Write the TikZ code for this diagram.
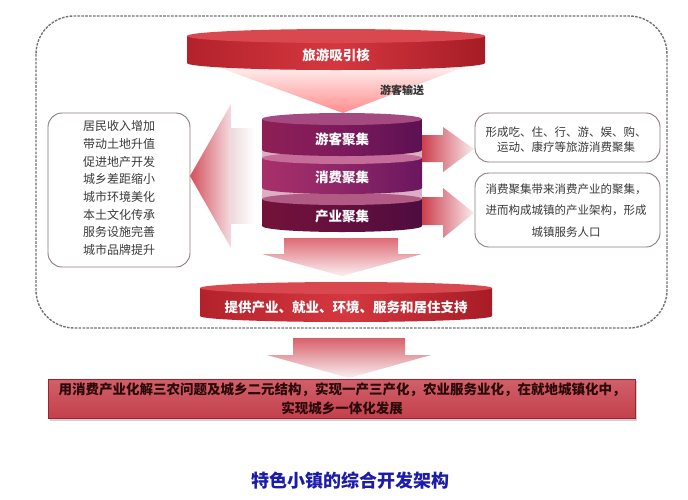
\documentclass[tikz,border=0pt]{standalone}
\usepackage{fontspec}
\setmainfont{Noto Sans CJK SC}
\definecolor{boxline}{HTML}{8C7A7C}
\definecolor{txtgray}{HTML}{3A3A3A}
\definecolor{capblue}{HTML}{1C1CA8}
\definecolor{stackbg}{HTML}{DCB0C4}
\definecolor{pThreeL}{HTML}{731238}
\definecolor{pThreeM}{HTML}{64103E}
\definecolor{pThreeR}{HTML}{4E0C3E}
\definecolor{pThreeT}{HTML}{B05A84}
\definecolor{pTwoL}{HTML}{A8306A}
\definecolor{pTwoM}{HTML}{8E2668}
\definecolor{pTwoR}{HTML}{6A165E}
\definecolor{pTwoT}{HTML}{C56C98}
\definecolor{pOneL}{HTML}{8F1F55}
\definecolor{pOneM}{HTML}{7C1A5C}
\definecolor{pOneR}{HTML}{5C1052}
\definecolor{pOneT}{HTML}{A44A80}
\definecolor{rL}{HTML}{B3222B}
\definecolor{rM}{HTML}{D5373F}
\definecolor{rR}{HTML}{A61C26}
\definecolor{rT}{HTML}{D9474F}
\definecolor{lshaft}{HTML}{EBD8DC}
\definecolor{ltip}{HTML}{D4505C}
\definecolor{lback}{HTML}{F4DCE0}
\definecolor{arrred}{HTML}{CC3F4C}
\definecolor{arrpale}{HTML}{FAECEE}
\definecolor{darr}{HTML}{DE6A74}
\definecolor{darrpale}{HTML}{FBF0F2}
\definecolor{darrb}{HTML}{D8606A}
\definecolor{darrbpale}{HTML}{F8F0F1}
\definecolor{barT}{HTML}{D0606A}
\definecolor{barB}{HTML}{C4404C}
\definecolor{barline}{HTML}{A02030}
\definecolor{bartext}{HTML}{2A0A0A}
\newcommand{\cyl}[9]{%
 \shade[left color=#6, right color=#8, middle color=#7] (#1-#2,#4) -- (#1-#2,#5) .. controls (#1-#2,#5+0.5523*#3) and (#1-0.5523*#2,#5+#3) .. (#1,#5+#3) .. controls (#1+0.5523*#2,#5+#3) and (#1+#2,#5+0.5523*#3) .. (#1+#2,#5) -- (#1+#2,#4) -- cycle;
 \fill[#9] (#1,#4) ellipse [x radius=#2, y radius=#3];
}
\begin{document}
\begin{tikzpicture}[x=1pt,y=-1pt,
  outerbox/.style={draw=black!55, line width=1.4pt, dash pattern=on 2.6pt off 1.3pt, rounded corners=38pt},
  infobox/.style={draw=boxline, line width=0.9pt, rounded corners=14pt},
  cyltext/.style={text=white, font=\bfseries\fontsize{13.5}{16}\selectfont},
  infotext/.style={text=txtgray, align=center},
]
\useasboundingbox (0,0) rectangle (688,499);
\fill[white] (0,0) rectangle (688,499);

% outer dashed frame
\draw[outerbox] (36,16) rectangle (667,328);

% funnel under top cylinder
\shade[top color=red!4, bottom color=red!45!white] (210,64) -- (472,64) -- (343,113) -- cycle;

% top cylinder
\cyl{336}{149}{7}{36}{63}{rL}{rM}{rR}{rT}
\node[cyltext] (core) at (336,55) {旅游吸引核};
\node[font=\bfseries\fontsize{11}{13}\selectfont, text=black!80] (flow) at (402,90) {游客输送};

% purple stack
\fill[stackbg] (262,119) rectangle (422,226);
\cyl{342}{80}{6}{199}{226}{pThreeL}{pThreeM}{pThreeR}{pThreeT}
\cyl{342}{80}{6}{158}{188}{pTwoL}{pTwoM}{pTwoR}{pTwoT}
\cyl{342}{80}{6}{119}{150}{pOneL}{pOneM}{pOneR}{pOneT}
\node[cyltext] (tour) at (342,139) {游客聚集};
\node[cyltext] (cons) at (342,177) {消费聚集};
\node[cyltext] (ind) at (342,216) {产业聚集};

% left block arrow
\shade[left color=lshaft, right color=white] (230,128) rectangle (254,223);
\shade[left color=ltip, right color=lback] (190,176) -- (231,104) -- (231,248) -- cycle;

% left box
\draw[infobox] (48,113) rectangle (190,267);
\node[infotext, font=\fontsize{12}{17.7}\selectfont] (lefttxt) at (119,188)
 {居民收入增加\\带动土地升值\\促进地产开发\\城乡差距缩小\\城市环境美化\\本土文化传承\\服务设施完善\\城市品牌提升};

% right block arrows
\shade[left color=arrred, right color=arrpale] (422,135) -- (443,135) -- (443,127) -- (474,149) -- (443,172) -- (443,162) -- (422,162) -- cycle;
\shade[left color=arrred, right color=arrpale] (422,197) -- (443,197) -- (443,188) -- (474,213) -- (443,238) -- (443,225) -- (422,225) -- cycle;

% right boxes
\draw[infobox] (475,113) rectangle (660,162);
\node[infotext, font=\fontsize{11.5}{15}\selectfont] (r1) at (566,139.5)
 {形成吃、住、行、游、娱、购、\\运动、康疗等旅游消费聚集};
\draw[infobox] (475,173) rectangle (660,247);
\node[infotext, font=\fontsize{11.5}{21.5}\selectfont] (r2) at (566,210.5)
 {消费聚集带来消费产业的聚集，\\进而构成城镇的产业架构，形成\\城镇服务人口};

% down arrow under stack
\shade[top color=darr, bottom color=darrpale] (284,238) -- (398,238) -- (398,254) -- (422,254) -- (342,276) -- (262,254) -- (284,254) -- cycle;

% bottom cylinder
\cyl{346}{146}{6}{288}{316}{rL}{rM}{rR}{rT}
\node[cyltext] (support) at (346,307) {提供产业、就业、环境、服务和居住支持};

% down arrow outside frame
\shade[top color=darrb, bottom color=darrbpale] (293,338) -- (405,338) -- (405,355) -- (431,355) -- (349,378) -- (267,355) -- (293,355) -- cycle;

% bottom bar
\fill[black!18] (50,381) rectangle (637,421);
\shade[top color=barT, bottom color=barB, draw=barline, line width=0.8pt] (48,379) rectangle (635,418);
\node[font=\bfseries\fontsize{13.5}{19.5}\selectfont, text=bartext, align=center] (bar) at (342,399)
 {用消费产业化解三农问题及城乡二元结构，实现一产三产化，农业服务业化，在就地城镇化中，\\实现城乡一体化发展};

% caption
\node[font=\bfseries\fontsize{18}{20}\selectfont, text=capblue] (caption) at (350,481) {特色小镇的综合开发架构};
\end{tikzpicture}
\end{document}
